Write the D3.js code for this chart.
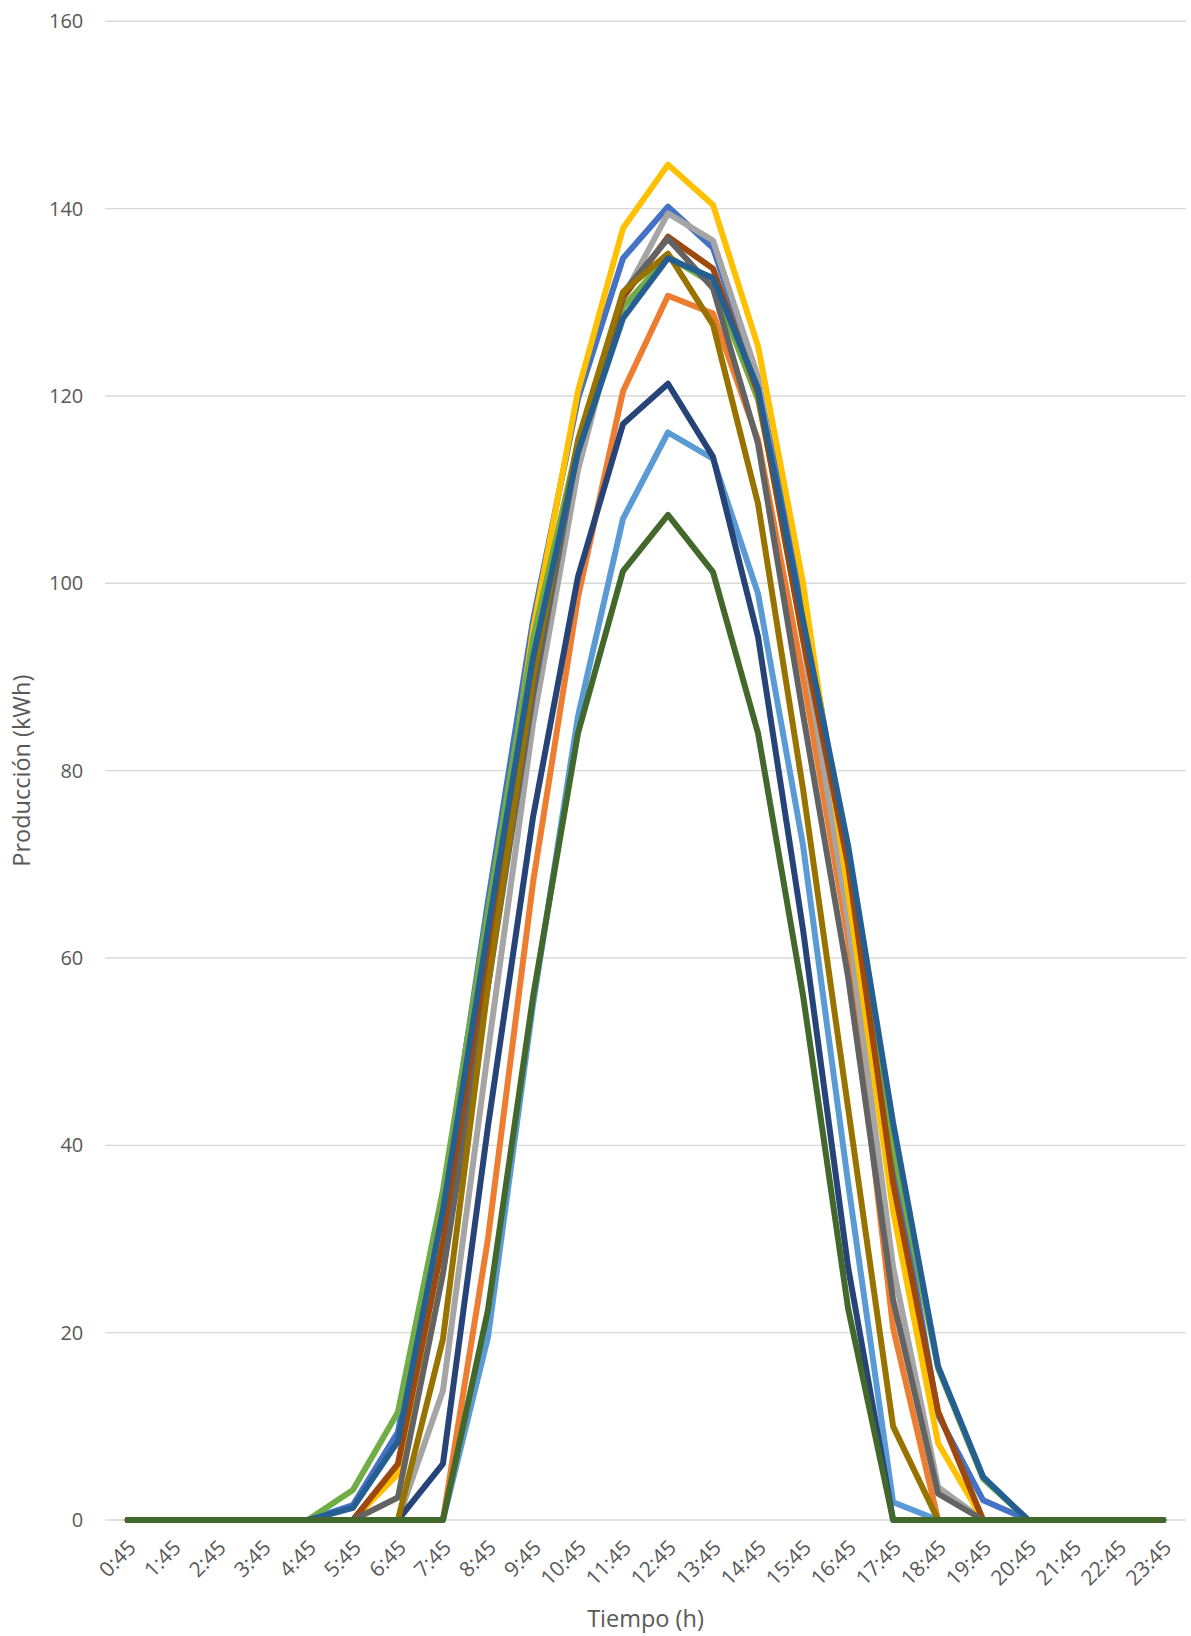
<!DOCTYPE html>
<html>
<head>
<meta charset="utf-8">
<script src="https://cdn.jsdelivr.net/npm/d3@7"></script>
<style>
  html, body { margin: 0; padding: 0; background: #ffffff; }
  svg { display: block; font-family: "Open Sans", "Noto Sans", sans-serif; }
</style>
</head>
<body>
<svg id="chart" width="1191" height="1636"></svg>
<script>
// Horas del día (eje de categorías)
const horas = ["0:45","1:45","2:45","3:45","4:45","5:45","6:45","7:45","8:45","9:45","10:45","11:45",
               "12:45","13:45","14:45","15:45","16:45","17:45","18:45","19:45","20:45","21:45","22:45","23:45"];

// Producción horaria (kWh) de cada serie
const serie1  = [0,0,0,0,0,1.6,9.4,34,66,96,119.7,134.7,140.2,135.8,121.5,98,70,39,11.2,2.1,0,0,0,0];
const serie2  = [0,0,0,0,0,0,0,0,30,68,98.5,120.5,130.7,128.8,115.3,90,62,20.5,0,0,0,0,0,0];
const serie3  = [0,0,0,0,0,0,0,13.8,50,85,112.1,130.5,139.5,136.6,122,94,64,27,3.5,0,0,0,0,0];
const serie4  = [0,0,0,0,0,0,4.9,30,62,95,120.5,137.9,144.7,140.4,125.3,100,67,33,8.2,0,0,0,0,0];
const serie5  = [0,0,0,0,0,0,0,0,19.5,55,85.8,106.9,116.1,113.3,98.9,72,36,1.9,0,0,0,0,0,0];
const serie6  = [0,0,0,0,0,3.2,11.5,35.2,65,94,115,129.5,134.9,132,119.6,96,70,40,16.2,4.4,0,0,0,0];
const serie7  = [0,0,0,0,0,0,0,6,42,75,100.7,117,121.3,113.5,94.3,63,27,0,0,0,0,0,0,0];
const serie8  = [0,0,0,0,0,0,6,29.6,60,90,114.5,130.5,137,133.6,120.3,94,70,36,11.6,0,0,0,0,0];
const serie9  = [0,0,0,0,0,0,2.4,26.3,57,88,114.5,131,136.8,131.5,114.9,86,58,23.5,2.8,0,0,0,0,0];
const serie10 = [0,0,0,0,0,0,0,19.3,57,90,115.3,131.1,135.2,127.6,108.5,78,44,10,0,0,0,0,0,0];
const serie11 = [0,0,0,0,0,1.3,8.4,33,63,92,114,128.3,134.7,132.6,120.8,96,72,42.4,16.4,4.6,0,0,0,0];
const serie12 = [0,0,0,0,0,0,0,0,22.4,55.8,84,101.3,107.3,101.2,84,56,22.6,0,0,0,0,0,0,0];

const series = [serie1, serie2, serie3, serie4, serie5, serie6, serie7, serie8, serie9, serie10, serie11, serie12];
const colores = ["#4472C4","#ED7D31","#A5A5A5","#FFC000","#5B9BD5","#70AD47",
                 "#264478","#9E480E","#636363","#997300","#255E91","#43682B"];

const yTicks = [0, 20, 40, 60, 80, 100, 120, 140, 160];

const svg = d3.select("#chart");
const plot = { left: 105.3, right: 1185.7, top: 21.3, bottom: 1520 };

const x = d3.scalePoint().domain(horas).range([plot.left, plot.right]).padding(0.5);
const y = d3.scaleLinear().domain([0, 160]).range([plot.bottom, plot.top]);

const textColor = "#595959";

// Líneas de cuadrícula horizontales
svg.append("g")
  .selectAll("line")
  .data(yTicks)
  .join("line")
  .attr("x1", plot.left).attr("x2", plot.right)
  .attr("y1", d => y(d)).attr("y2", d => y(d))
  .attr("stroke", "#d9d9d9").attr("stroke-width", 1.4);

// Eje Y
const yAxis = svg.append("g")
  .attr("transform", `translate(${plot.left},0)`)
  .call(d3.axisLeft(y).tickValues(yTicks).tickSize(0).tickPadding(22));
yAxis.select(".domain").remove();
yAxis.selectAll("text")
  .attr("fill", textColor)
  .style("font-size", "20px")
  .style("font-family", "'Open Sans', sans-serif");

// Eje X con etiquetas giradas
const xAxis = svg.append("g")
  .attr("transform", `translate(0,${plot.bottom})`)
  .call(d3.axisBottom(x).tickSize(0));
xAxis.select(".domain").remove();
xAxis.selectAll("text")
  .attr("fill", textColor)
  .style("font-size", "21px")
  .style("font-family", "'Open Sans', sans-serif")
  .attr("text-anchor", "end")
  .attr("dy", null)
  .attr("y", null)
  .attr("transform", "translate(9,29) rotate(-45)");

// Series de producción
const line = d3.line()
  .x((d, i) => x(horas[i]))
  .y(d => y(d));

svg.append("g")
  .selectAll("path")
  .data(series)
  .join("path")
  .attr("d", d => line(d))
  .attr("fill", "none")
  .attr("stroke", (d, i) => colores[i])
  .attr("stroke-width", 6)
  .attr("stroke-linejoin", "round")
  .attr("stroke-linecap", "round");

// Títulos de los ejes
svg.append("text")
  .attr("x", (plot.left + plot.right) / 2)
  .attr("y", 1627)
  .attr("text-anchor", "middle")
  .attr("fill", textColor)
  .style("font-size", "23.5px")
  .text("Tiempo (h)");

svg.append("text")
  .attr("transform", `translate(30,${(plot.top + plot.bottom) / 2}) rotate(-90)`)
  .attr("text-anchor", "middle")
  .attr("fill", textColor)
  .style("font-size", "23.5px")
  .text("Producción (kWh)");
</script>
</body>
</html>
